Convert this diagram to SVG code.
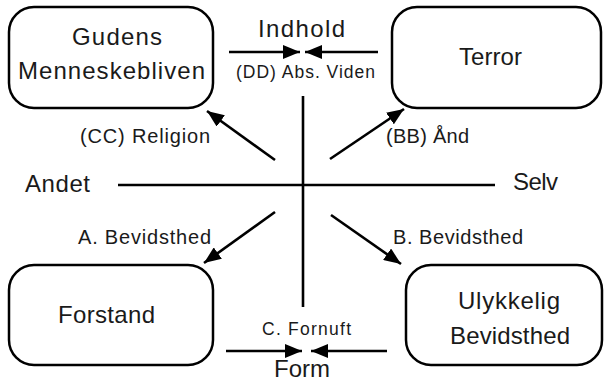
<svg xmlns="http://www.w3.org/2000/svg" width="604" height="383" viewBox="0 0 604 383">
<style>
.box{fill:#fff;stroke:#000;stroke-width:2.5}
.ln{stroke:#000;stroke-width:2.6;fill:none}
.t{font-family:"Liberation Sans",Arial,sans-serif;fill:#1a1a1a}
.big{font-size:24px}
.mid{font-size:20px}
.sm{font-size:17.5px}
</style>
<defs>
<marker id="ah" markerUnits="userSpaceOnUse" markerWidth="18" markerHeight="14" refX="17" refY="7" orient="auto">
<path d="M0,0 L17,7 L0,14 z" fill="#000"/>
</marker>
</defs>
<rect width="604" height="383" fill="#fff"/>
<g id="connectors">
<line class="ln" x1="303" y1="96" x2="303" y2="307"/>
<line class="ln" x1="118" y1="185" x2="495" y2="185"/>
<line class="ln" x1="229" y1="52" x2="300" y2="52" marker-end="url(#ah)"/>
<line class="ln" x1="378" y1="52" x2="305" y2="52" marker-end="url(#ah)"/>
<line class="ln" x1="226" y1="351" x2="302" y2="351" marker-end="url(#ah)"/>
<line class="ln" x1="387" y1="351" x2="311" y2="351" marker-end="url(#ah)"/>
<line class="ln" x1="275" y1="160" x2="207" y2="111" marker-end="url(#ah)"/>
<line class="ln" x1="330" y1="159" x2="404" y2="109" marker-end="url(#ah)"/>
<line class="ln" x1="275" y1="212" x2="204" y2="263" marker-end="url(#ah)"/>
<line class="ln" x1="331" y1="215" x2="401" y2="264" marker-end="url(#ah)"/>
</g>
<g id="gudens">
<rect class="box" x="9" y="7" width="204" height="101" rx="25"/>
<text class="t big" x="72" y="45" textLength="90">Gudens</text>
<text class="t big" x="18" y="79" textLength="187">Menneskebliven</text>
</g>
<g id="terror">
<rect class="box" x="392" y="7" width="209" height="101" rx="25"/>
<text class="t big" x="459" y="65" textLength="63">Terror</text>
</g>
<g id="forstand">
<rect class="box" x="9" y="265" width="204" height="100" rx="25"/>
<text class="t big" x="58" y="323" textLength="97">Forstand</text>
</g>
<g id="ulykkelig">
<rect class="box" x="406" y="265" width="196" height="100" rx="25"/>
<text class="t big" x="458" y="309" textLength="102">Ulykkelig</text>
<text class="t big" x="450" y="344" textLength="120">Bevidsthed</text>
</g>
<g id="labels">
<text class="t big" x="258" y="37" textLength="87">Indhold</text>
<text class="t sm" x="236" y="78" textLength="139">(DD) Abs. Viden</text>
<text class="t mid" x="80" y="143" textLength="130">(CC) Religion</text>
<text class="t mid" x="386" y="143" textLength="83">(BB) Ånd</text>
<text class="t big" x="25" y="192" textLength="65">Andet</text>
<text class="t big" x="513" y="190" textLength="45">Selv</text>
<text class="t mid" x="78" y="244" textLength="133">A. Bevidsthed</text>
<text class="t mid" x="393" y="244" textLength="130">B. Bevidsthed</text>
<text class="t sm" x="262" y="335" textLength="89">C. Fornuft</text>
<text class="t big" x="274" y="377" textLength="56">Form</text>
</g>
</svg>
